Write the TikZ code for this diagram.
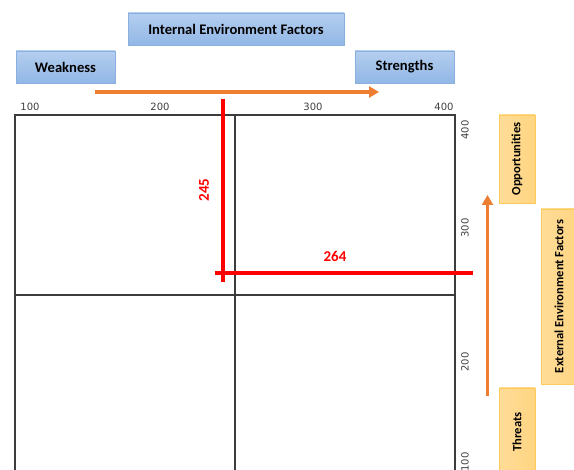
\documentclass[tikz,border=0pt]{standalone}
\usepackage{fontspec}
\setmainfont{Carlito}
\newfontfamily\numfont{DejaVu Sans}
\usetikzlibrary{arrows.meta}
\definecolor{bluetop}{HTML}{B4CEEF}
\definecolor{bluebot}{HTML}{92B7E6}
\definecolor{blueline}{HTML}{8AB0E0}
\definecolor{goldleft}{HTML}{FFDC98}
\definecolor{goldright}{HTML}{FFD582}
\definecolor{goldline}{HTML}{FDCB5A}
\definecolor{arroworange}{HTML}{ED7D31}
\definecolor{gridgrey}{HTML}{3C3C3C}
\definecolor{ticktext}{HTML}{404040}

\begin{document}
\begin{tikzpicture}[x=1pt,y=-1pt,
  bluebox/.style={draw=blueline,top color=bluetop,bottom color=bluebot,inner sep=0pt,font=\bfseries\fontsize{14.6}{15}\selectfont},
  goldbox/.style={draw=goldline,left color=goldleft,right color=goldright,inner sep=0pt,rotate=90,font=\bfseries\fontsize{12.6}{13}\selectfont},
  tick/.style={text=ticktext,inner sep=0pt,font=\numfont\fontsize{10}{10}\selectfont},
  cut/.style={red,line width=3.5pt},
  cutlabel/.style={text=red,inner sep=0pt,font=\bfseries\fontsize{15}{15}\selectfont},
  flow/.style={arroworange,line width=3.5pt,-{Triangle[length=10pt,width=11pt]}}]
  \clip (0,0) rectangle (574,470);
  % header boxes
  \node[bluebox,minimum width=216,minimum height=32] (internal) at (236,29) {Internal Environment Factors};
  \node[bluebox,minimum width=99,minimum height=32] (weak) at (65.5,67) {Weakness};
  \node[bluebox,minimum width=99,minimum height=32] (strong) at (404.5,67) {Strengths};
  % side boxes
  \node[goldbox,minimum width=88,minimum height=36] (opp) at (517,159) {Opportunities};
  \node[goldbox,minimum width=175,minimum height=36] (external) at (559,296.5) {External Environment Factors};
  \node[goldbox,minimum width=88,minimum height=36] (threat) at (517,432) {Threats};
  % orange arrows
  \coordinate (wstart) at (95,92);
  \coordinate (send) at (379,92);
  \draw[flow] (wstart) -- (send);
  \coordinate (tstart) at (487.5,396);
  \coordinate (oend) at (487.5,195);
  \draw[flow] (tstart) -- (oend);
  % quadrant grid
  \draw[gridgrey,line width=1.2pt] (15,480) -- (15,115) -- (455,115) -- (455,480);
  \draw[gridgrey,line width=1.3pt] (15,295) -- (455,295);
  \draw[gridgrey,line width=1.3pt] (235,115) -- (235,480);
  % axis numbers
  \foreach \x/\v in {30/100,160/200,313/300,444/400}{\node[tick] (top\v) at (\x,107) {\v};}
  \foreach \y/\v in {130/400,228/300,362/200,462/100}{\node[tick,rotate=90] (side\v) at (465,\y) {\v};}
  % red position lines
  \coordinate (vtop) at (223,99);
  \coordinate (vbot) at (223,282);
  \draw[cut] (vtop) -- (vbot);
  \coordinate (hleft) at (215,273);
  \coordinate (hright) at (473,273);
  \draw[cut] (hleft) -- (hright);
  \node[cutlabel,rotate=90] (vval) at (204,190) {245};
  \node[cutlabel] (hval) at (335,256) {264};
\end{tikzpicture}
\end{document}
